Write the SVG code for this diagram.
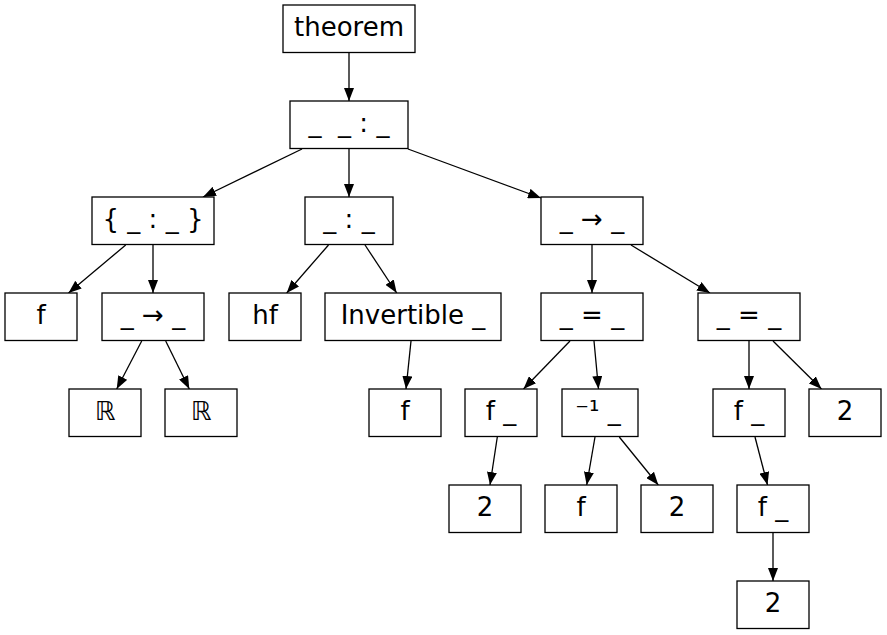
<svg xmlns="http://www.w3.org/2000/svg" width="887" height="635" viewBox="0 0 887 635">
<style>
rect{fill:#fff;stroke:#000;stroke-width:1.3}
text{font-family:"DejaVu Sans",sans-serif;font-size:26px;text-anchor:middle;fill:#000}
.e line{stroke:#000;stroke-width:1.3;marker-end:url(#a)}
</style>
<defs>
<marker id="a" markerUnits="userSpaceOnUse" markerWidth="13" markerHeight="10" refX="13" refY="5" orient="auto">
<path d="M0,0L13,5L0,10z" fill="#000"/>
</marker>
</defs>
<rect width="887" height="635" style="stroke:none"/>
<g class="e">
<line x1="349" y1="52.5" x2="349" y2="101"/>
<line x1="302" y1="149" x2="203" y2="197"/>
<line x1="349" y1="149" x2="349" y2="197"/>
<line x1="408" y1="149" x2="541" y2="198"/>
<line x1="125.7" y1="245" x2="68.5" y2="293"/>
<line x1="153" y1="245" x2="153" y2="293"/>
<line x1="328.5" y1="245" x2="286.7" y2="293"/>
<line x1="365" y1="245" x2="396.7" y2="293"/>
<line x1="592" y1="245" x2="592" y2="293"/>
<line x1="631" y1="245" x2="710" y2="293"/>
<line x1="141.7" y1="341" x2="116.7" y2="389"/>
<line x1="165.7" y1="341" x2="189.3" y2="389"/>
<line x1="411" y1="341" x2="406" y2="389"/>
<line x1="570" y1="341" x2="523.5" y2="389"/>
<line x1="594" y1="341" x2="598.5" y2="389"/>
<line x1="749" y1="341" x2="749" y2="389"/>
<line x1="773" y1="341" x2="821.5" y2="389"/>
<line x1="497.3" y1="437" x2="490" y2="485"/>
<line x1="595" y1="437" x2="586.7" y2="485"/>
<line x1="619.3" y1="437" x2="658.3" y2="485"/>
<line x1="755" y1="437" x2="767.5" y2="485"/>
<line x1="773" y1="533" x2="773" y2="581"/>
</g>
<g id="n_theorem"><rect x="283" y="5" width="132" height="47.5"/><text x="349" y="36">theorem</text></g>
<g id="n_typed"><rect x="290" y="101" width="118" height="47.5"/><text x="349" y="132" xml:space="preserve">_  _ : _</text></g>
<g id="n_subtype"><rect x="92" y="197" width="122" height="47.5"/><text x="153" y="228">{ _ : _ }</text></g>
<g id="n_hf_typed"><rect x="305" y="197" width="88" height="47.5"/><text x="349" y="228">_ : _</text></g>
<g id="n_arrow1"><rect x="541" y="197" width="102" height="47.5"/><text x="592" y="228">_ → _</text></g>
<g id="n_f1"><rect x="5" y="293" width="72" height="47.5"/><text x="41" y="324">f</text></g>
<g id="n_arrow2"><rect x="102" y="293" width="102" height="47.5"/><text x="153" y="324">_ → _</text></g>
<g id="n_hf"><rect x="229" y="293" width="72" height="47.5"/><text x="265" y="324">hf</text></g>
<g id="n_invertible"><rect x="325" y="293" width="176" height="47.5"/><text x="413" y="324">Invertible _</text></g>
<g id="n_eq1"><rect x="541" y="293" width="102" height="47.5"/><text x="592" y="324">_ = _</text></g>
<g id="n_eq2"><rect x="698" y="293" width="102" height="47.5"/><text x="749" y="324">_ = _</text></g>
<g id="n_R1"><rect x="69" y="389" width="72" height="47.5"/><text x="105" y="420">ℝ</text></g>
<g id="n_R2"><rect x="165" y="389" width="72" height="47.5"/><text x="201" y="420">ℝ</text></g>
<g id="n_f2"><rect x="369" y="389" width="72" height="47.5"/><text x="405" y="420">f</text></g>
<g id="n_fapp1"><rect x="465" y="389" width="72" height="47.5"/><text x="501" y="420">f _</text></g>
<g id="n_inv"><rect x="562" y="389" width="76" height="47.5"/><text x="598" y="420">⁻¹ _</text></g>
<g id="n_fapp2"><rect x="713" y="389" width="72" height="47.5"/><text x="749" y="420">f _</text></g>
<g id="n_two1"><rect x="809" y="389" width="72" height="47.5"/><text x="845" y="420">2</text></g>
<g id="n_two2"><rect x="449" y="485" width="72" height="47.5"/><text x="485" y="516">2</text></g>
<g id="n_f3"><rect x="545" y="485" width="72" height="47.5"/><text x="581" y="516">f</text></g>
<g id="n_two3"><rect x="641" y="485" width="72" height="47.5"/><text x="677" y="516">2</text></g>
<g id="n_fapp3"><rect x="737" y="485" width="72" height="47.5"/><text x="773" y="516">f _</text></g>
<g id="n_two4"><rect x="737" y="581" width="72" height="47.5"/><text x="773" y="612">2</text></g>
</svg>
